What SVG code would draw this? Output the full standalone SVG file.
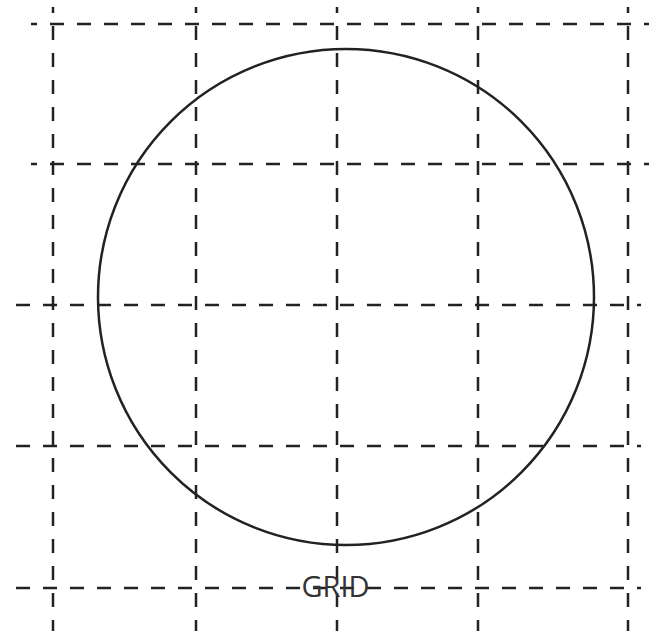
<svg xmlns="http://www.w3.org/2000/svg" width="649" height="636" viewBox="0 0 649 636">
<style>
.g line{stroke:#222;stroke-width:2.5;stroke-dasharray:14 13;fill:none}
.c{fill:none;stroke:#222;stroke-width:2.5}
.t{font-family:"Open Sans","Noto Sans",sans-serif;font-size:29px;fill:#333}
</style>
<rect width="649" height="636" fill="#fff"/>
<g id="grid" class="g">
<line x1="31" y1="24" x2="649" y2="24" stroke-dashoffset="8"/>
<line x1="31" y1="164" x2="649" y2="164" stroke-dashoffset="8"/>
<line x1="16" y1="305" x2="641" y2="305" stroke-dashoffset="0"/>
<line x1="16" y1="446" x2="641" y2="446" stroke-dashoffset="0"/>
<line x1="16" y1="588" x2="641" y2="588" stroke-dashoffset="0"/>
<line x1="53" y1="7" x2="53" y2="631" stroke-dashoffset="8"/>
<line x1="196" y1="7" x2="196" y2="631" stroke-dashoffset="8"/>
<line x1="337" y1="7" x2="337" y2="631" stroke-dashoffset="8"/>
<line x1="478" y1="7" x2="478" y2="631" stroke-dashoffset="8"/>
<line x1="628" y1="7" x2="628" y2="631" stroke-dashoffset="8"/>
</g>
<g id="circle">
<circle class="c" cx="346" cy="297" r="248"/>
</g>
<g id="label">
<text class="t" x="335.5" y="597" text-anchor="middle">GRID</text>
</g>
</svg>
